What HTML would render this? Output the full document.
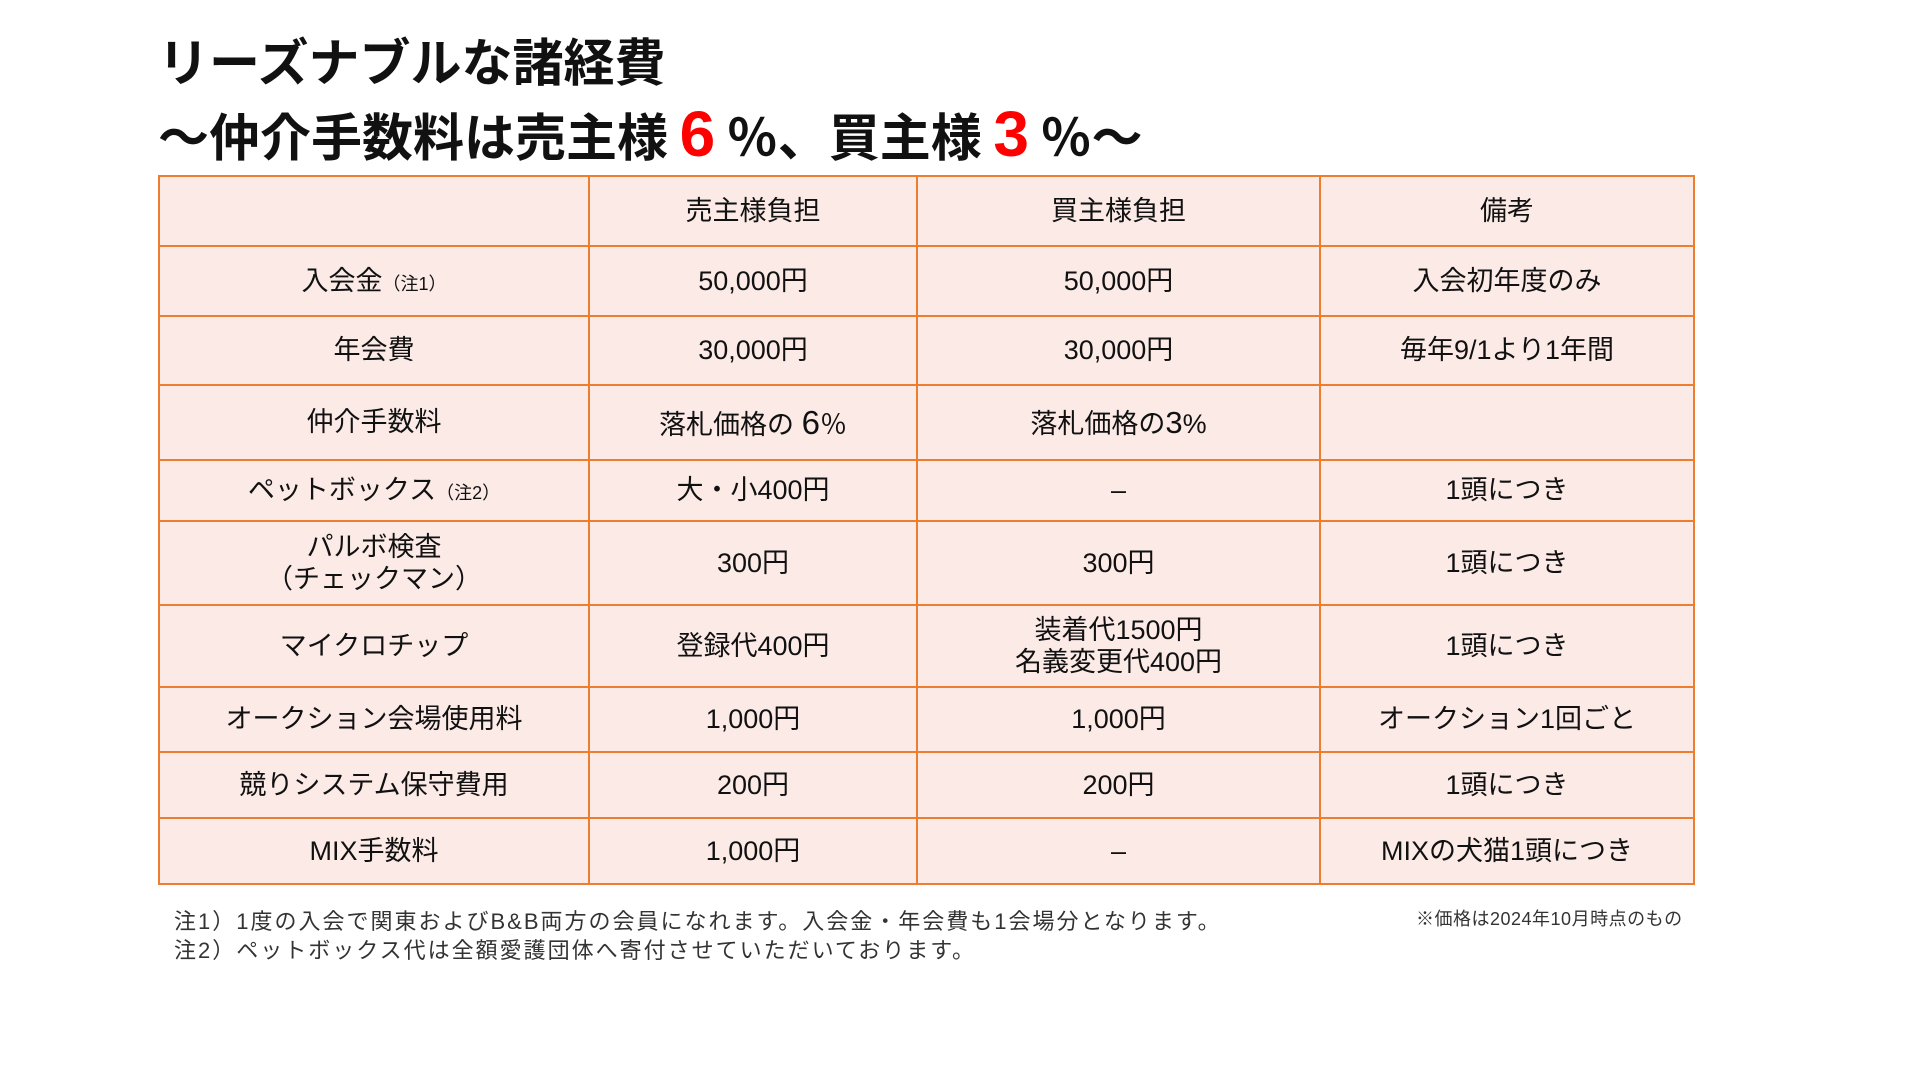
<!DOCTYPE html>
<html><head><meta charset="utf-8"><style>
body{margin:0;width:1920px;height:1080px;background:#fff;position:relative;overflow:hidden;font-family:"Liberation Sans","Noto Sans CJK JP",sans-serif;color:#111}
.t{position:absolute;left:158px;font-weight:700;font-size:51px;white-space:nowrap;line-height:1;font-family:"Noto Sans CJK JP",sans-serif;letter-spacing:0px}
.r{color:#f00;font-size:64px;font-family:"Liberation Sans",sans-serif;font-weight:700}
table{position:absolute;left:158px;top:175px;border-collapse:collapse;table-layout:fixed}
td{border:2px solid #ed7d31;background:#fbeae6;text-align:center;vertical-align:middle;font-size:27px;padding:0;line-height:1.2;font-family:"Liberation Sans","Noto Sans CJK JP",sans-serif}
small{font-size:18px}
.n{position:absolute;left:174px;font-size:22px;letter-spacing:2px;color:#333;white-space:nowrap;line-height:1}
</style></head><body>
<div class="t" style="top:34px">リーズナブルな諸経費</div>
<div class="t" style="top:102px">〜仲介手数料は売主様 <span class="r">6</span> ％、買主様 <span class="r">3</span> ％〜</div>
<table>
<colgroup><col style="width:430px"><col style="width:328px"><col style="width:403px"><col style="width:374px"></colgroup>
<tr style="height:70px"><td></td><td>売主様負担</td><td>買主様負担</td><td>備考</td></tr>
<tr style="height:70px"><td>入会金<small>（注1）</small></td><td>50,000円</td><td>50,000円</td><td>入会初年度のみ</td></tr>
<tr style="height:69px"><td>年会費</td><td>30,000円</td><td>30,000円</td><td>毎年9/1より1年間</td></tr>
<tr style="height:75px"><td>仲介手数料</td><td>落札価格の <span style="font-size:33px">6</span>％</td><td>落札価格の<span style="font-size:31px">3</span>%</td><td></td></tr>
<tr style="height:61px"><td>ペットボックス<small>（注2）</small></td><td>大・小400円</td><td>–</td><td>1頭につき</td></tr>
<tr style="height:84px"><td>パルボ検査<br>（チェックマン）</td><td>300円</td><td>300円</td><td>1頭につき</td></tr>
<tr style="height:82px"><td>マイクロチップ</td><td>登録代400円</td><td>装着代1500円<br>名義変更代400円</td><td>1頭につき</td></tr>
<tr style="height:65px"><td>オークション会場使用料</td><td>1,000円</td><td>1,000円</td><td>オークション1回ごと</td></tr>
<tr style="height:66px"><td>競りシステム保守費用</td><td>200円</td><td>200円</td><td>1頭につき</td></tr>
<tr style="height:66px"><td>MIX手数料</td><td>1,000円</td><td>–</td><td>MIXの犬猫1頭につき</td></tr>
</table>
<div class="n" style="top:911px">注1）1度の入会で関東およびB&amp;B両方の会員になれます。入会金・年会費も1会場分となります。</div>
<div class="n" style="top:940px">注2）ペットボックス代は全額愛護団体へ寄付させていただいております。</div>
<div class="n" style="left:1416px;top:910px;font-size:18px;letter-spacing:0.5px">※価格は2024年10月時点のもの</div>
</body></html>
